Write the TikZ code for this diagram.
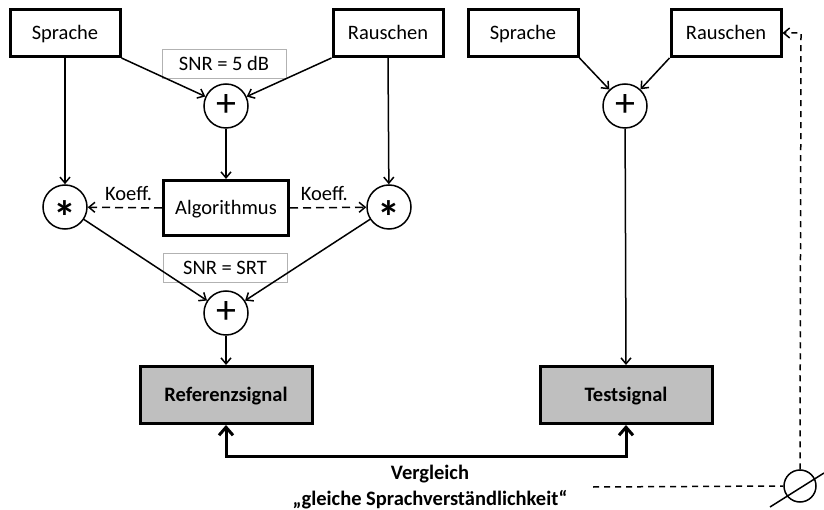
\documentclass[tikz,border=0pt]{standalone}
\usepackage{fontspec}
\setmainfont{Carlito}
\usetikzlibrary{arrows.meta}
\begin{document}
\begin{tikzpicture}[x=1pt,y=-1pt,
	>={Straight Barb[length=6pt,width=10pt]},
	line width=1.5pt,
	font=\fontsize{20.5}{24}\selectfont,
	srcbox/.style={draw, line width=3pt, minimum width=110pt, minimum height=47pt, inner sep=0pt, text height=13pt, text depth=0pt},
	sigbox/.style={draw, line width=3pt, fill=gray!50, minimum width=172pt, minimum height=57pt, inner sep=0pt, text height=13pt, text depth=0pt, font=\fontsize{20.5}{24}\selectfont\bfseries},
	snrbox/.style={draw=gray!60, line width=1pt, minimum width=124pt, minimum height=29pt, inner sep=0pt, text height=13pt, text depth=0pt},
	opnode/.style={circle, draw, line width=1.5pt, minimum size=44pt, inner sep=0pt, font=\fontsize{40}{40}\selectfont},
	mulnode/.style={opnode, text height=0pt, text depth=0pt, font=\fontsize{46}{46}\selectfont\bfseries},
	dashline/.style={dash pattern=on 8pt off 5pt},
	bigarrow/.style={line width=3pt, {Straight Barb[length=8pt,width=14pt]}-{Straight Barb[length=8pt,width=14pt]}}]
  \useasboundingbox (0,0) rectangle (824,510);
	\node[snrbox] (snrA) at (224,64) {SNR = 5 dB};
	\node[snrbox] (snrB) at (225,268) {SNR = SRT};
	\node[srcbox] (spL) at (65,33) {Sprache};
	\node[srcbox] (raL) at (388,33) {Rauschen};
	\node[srcbox] (spR) at (523,33) {Sprache};
	\node[srcbox] (raR) at (726,33) {Rauschen};
	\node[opnode] (sumA) at (226,106) {+};
	\node[opnode] (sumB) at (226,313) {+};
	\node[opnode] (sumC) at (625,106) {+};
	\node[mulnode] (mulL) at (65,207) {\raisebox{-27pt}{*}};
	\node[mulnode] (mulR) at (389,207) {\raisebox{-27pt}{*}};
	\node[srcbox, minimum width=125pt, minimum height=55pt] (algo) at (226,208) {Algorithmus};
	\node[sigbox] (ref) at (226,395) {Referenzsignal};
	\node[sigbox] (test) at (626,395) {Testsignal};
	\node[align=center, inner sep=0pt, font=\fontsize{20.5}{26}\selectfont\bfseries] (vgl) at (430,487) {Vergleich\\„gleiche Sprachverständlichkeit“};
	\node[circle, draw, line width=1.5pt, minimum size=32pt, inner sep=0pt] (pot) at (800,486) {};
	\coordinate (knick) at (801,33);
	\coordinate (vglend) at (593,487);
	\draw[->] (spL.south east) -- (sumA);
	\draw[->] (raL.south west) -- (sumA);
	\draw[->] (spL.south) -- (mulL);
	\draw[->] (raL.south) -- (mulR);
	\draw[->] (sumA) -- (algo.north);
	\draw[->, dashline] (algo.west) -- node[above, pos=.45, yshift=3pt] {Koeff.} (mulL);
	\draw[->, dashline] (algo.east) -- node[above, pos=.45, yshift=3pt] {Koeff.} (mulR);
	\draw[->] (mulL) -- (sumB);
	\draw[->] (mulR) -- (sumB);
	\draw[->] (sumB) -- (ref.north);
	\draw[->] (spR.south east) -- (sumC);
	\draw[->] (raR.south west) -- (sumC);
	\draw[->] (sumC) -- (test.north);
	\draw[bigarrow] (ref.south) -- ++(0,31) -| (test.south);
	\draw[->, dash pattern=on 6pt off 5pt] (pot.north) -- (knick) -- (raR.east);
	\draw[dash pattern=on 6pt off 5pt] (vglend) -- (pot.west);
	\draw ([shift={(-30,21)}]pot.center) -- ([shift={(24,-13)}]pot.center);
\end{tikzpicture}
\end{document}
